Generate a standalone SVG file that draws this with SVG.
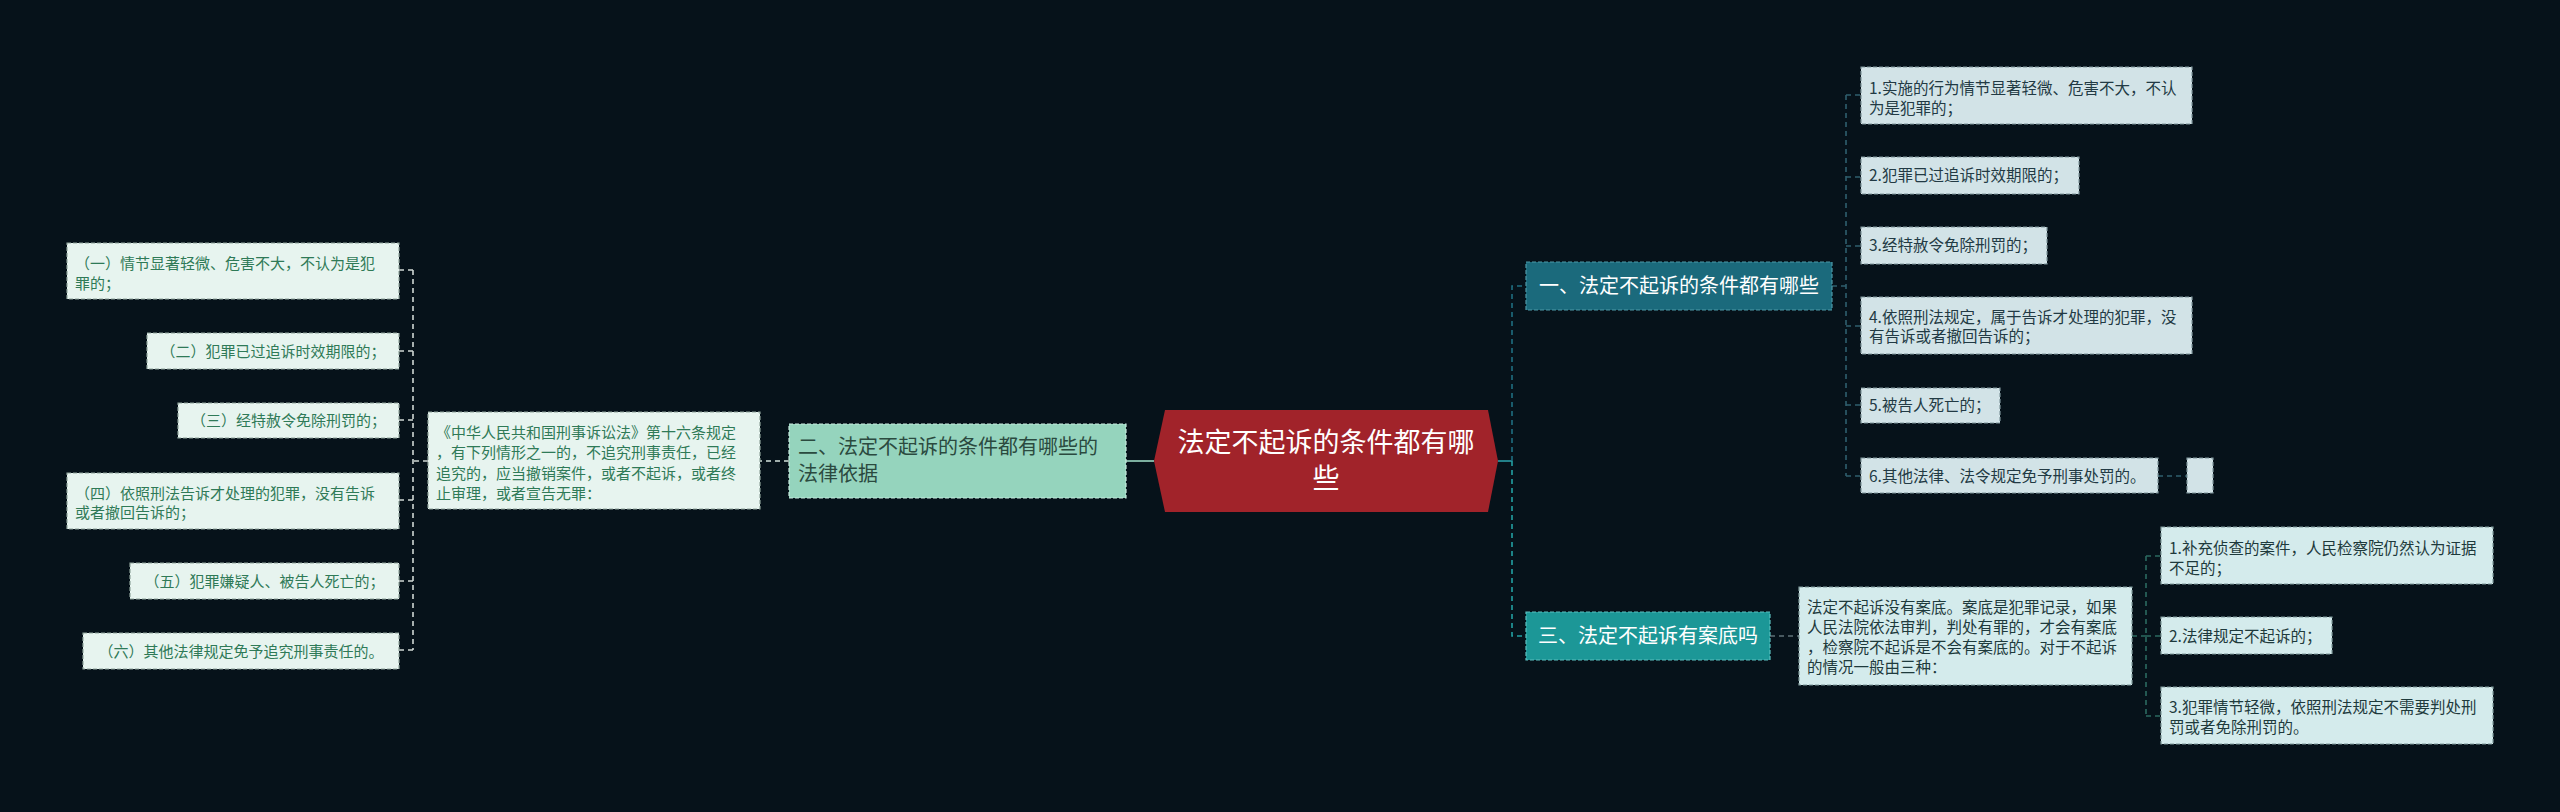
<svg xmlns="http://www.w3.org/2000/svg" width="2560" height="812" viewBox="0 0 2560 812">
<style>
text{font-family:"Noto Sans CJK SC","Noto Sans",sans-serif}
.bx{stroke-width:1.2;stroke-dasharray:4 2}
.leaf{fill:#e7f4ef;stroke:#8fa39b}
.lt{fill:#2f7a57;font-size:15px}
.rbox{fill:#d2e3e7;stroke:#7f959b}
.rt{fill:#223a44;font-size:15.5px}
.cbox{fill:#d4ebec;stroke:#7f9a9b}
.ct{fill:#1e3a3c;font-size:15.5px}
.c{fill:none;stroke-width:1.6}
.d{stroke-dasharray:5 4}
</style>
<rect width="2560" height="812" fill="#06121a"/>
<g id="connectors">
<path class="c" d="M1154 461H1126" stroke="#9bd8c2"/>
<path class="c d" d="M789 461H760" stroke="#d3e3dd"/>
<path class="c d" d="M428 461H413M413 270V650M413 270H399M413 351H399M413 420H399M413 500H399M413 581H399M413 650H399" stroke="#cfd8d4"/>
<path class="c" d="M1498 461H1512" stroke="#2a9ea6"/>
<path class="c d" d="M1512 461V286H1526" stroke="#1f6e80"/>
<path class="c d" d="M1512 461V636H1526" stroke="#22a0a2"/>
<path class="c d" d="M1832 286H1846M1846 95V476M1846 95H1861M1846 177H1861M1846 246H1861M1846 326H1861M1846 405H1861M1846 476H1861M2158 476H2187" stroke="#2f5f6e"/>
<path class="c d" d="M1770 636H1799" stroke="#5f7278"/>
<path class="c d" d="M2132 636H2146M2146 556V716M2146 556H2161M2146 636H2161M2146 716H2161" stroke="#2b6a60"/>
</g>
<g id="center">
<polygon points="1154,461 1165,410 1488,410 1498,461 1488,512 1165,512" fill="#a1232a"/>
<text x="1326" y="452" font-size="27" fill="#ffffff" text-anchor="middle">法定不起诉的条件都有哪</text>
<text x="1326" y="488" font-size="27" fill="#ffffff" text-anchor="middle">些</text>
</g>
<g id="n2">
<rect class="bx" x="789" y="424" width="337" height="74" fill="#95d4bd" stroke="#c8ece0"/>
<text x="798" y="454" font-size="20" fill="#2b4a3f">二、法定不起诉的条件都有哪些的</text>
<text x="798" y="481" font-size="20" fill="#2b4a3f">法律依据</text>
</g>
<g id="n2-text">
<rect class="bx leaf" x="428" y="412" width="332" height="97"/>
<text class="lt" x="436" y="437.5" font-size="15.5">《中华人民共和国刑事诉讼法》第十六条规定</text>
<text class="lt" x="436" y="458">，有下列情形之一的，不追究刑事责任，已经</text>
<text class="lt" x="436" y="478.5">追究的，应当撤销案件，或者不起诉，或者终</text>
<text class="lt" x="436" y="499">止审理，或者宣告无罪：</text>
</g>
<g id="l1">
<rect class="bx leaf" x="67" y="243" width="332" height="56"/>
<text class="lt" x="75" y="268.5">（一）情节显著轻微、危害不大，不认为是犯</text>
<text class="lt" x="75" y="288.5">罪的；</text>
</g>
<g id="l2">
<rect class="bx leaf" x="147" y="333" width="252" height="36"/>
<text class="lt" x="273" y="356.5" text-anchor="middle">（二）犯罪已过追诉时效期限的；</text>
</g>
<g id="l3">
<rect class="bx leaf" x="178" y="403" width="221" height="35"/>
<text class="lt" x="288.5" y="425.5" text-anchor="middle">（三）经特赦令免除刑罚的；</text>
</g>
<g id="l4">
<rect class="bx leaf" x="67" y="473" width="332" height="56"/>
<text class="lt" x="75" y="498.5">（四）依照刑法告诉才处理的犯罪，没有告诉</text>
<text class="lt" x="75" y="518">或者撤回告诉的；</text>
</g>
<g id="l5">
<rect class="bx leaf" x="130" y="563" width="269" height="36"/>
<text class="lt" x="264.5" y="586.5" text-anchor="middle">（五）犯罪嫌疑人、被告人死亡的；</text>
</g>
<g id="l6">
<rect class="bx leaf" x="83" y="633" width="316" height="36"/>
<text class="lt" x="241" y="656.5" text-anchor="middle">（六）其他法律规定免予追究刑事责任的。</text>
</g>
<g id="n1">
<rect class="bx" x="1526" y="262" width="306" height="48" fill="#1b6a7c" stroke="#4f99a8"/>
<text x="1679" y="293" font-size="20" fill="#ffffff" text-anchor="middle">一、法定不起诉的条件都有哪些</text>
</g>
<g id="r1">
<rect class="bx rbox" x="1861" y="67" width="331" height="57"/>
<text class="rt" x="1869" y="93.5">1.实施的行为情节显著轻微、危害不大，不认</text>
<text class="rt" x="1869" y="113.5">为是犯罪的；</text>
</g>
<g id="r2">
<rect class="bx rbox" x="1861" y="157" width="218" height="37"/>
<text class="rt" x="1869" y="180.5">2.犯罪已过追诉时效期限的；</text>
</g>
<g id="r3">
<rect class="bx rbox" x="1861" y="227" width="186" height="37"/>
<text class="rt" x="1869" y="250.5">3.经特赦令免除刑罚的；</text>
</g>
<g id="r4">
<rect class="bx rbox" x="1861" y="297" width="331" height="57"/>
<text class="rt" x="1869" y="322.5">4.依照刑法规定，属于告诉才处理的犯罪，没</text>
<text class="rt" x="1869" y="342">有告诉或者撤回告诉的；</text>
</g>
<g id="r5">
<rect class="bx rbox" x="1861" y="388" width="139" height="35"/>
<text class="rt" x="1869" y="410.5">5.被告人死亡的；</text>
</g>
<g id="r6">
<rect class="bx rbox" x="1861" y="458" width="297" height="35"/>
<text class="rt" x="1869" y="481.5">6.其他法律、法令规定免予刑事处罚的。</text>
</g>
<g id="r6-empty">
<rect class="bx rbox" x="2187" y="458" width="26" height="35"/>
</g>
<g id="n3">
<rect class="bx" x="1526" y="612" width="244" height="48" fill="#1c9797" stroke="#5cc0c0"/>
<text x="1648" y="643" font-size="20" fill="#ffffff" text-anchor="middle">三、法定不起诉有案底吗</text>
</g>
<g id="n3-text">
<rect class="bx cbox" x="1799" y="587" width="333" height="98"/>
<text class="ct" x="1807" y="613">法定不起诉没有案底。案底是犯罪记录，如果</text>
<text class="ct" x="1807" y="633">人民法院依法审判，判处有罪的，才会有案底</text>
<text class="ct" x="1807" y="653">，检察院不起诉是不会有案底的。对于不起诉</text>
<text class="ct" x="1807" y="673">的情况一般由三种：</text>
</g>
<g id="c1">
<rect class="bx cbox" x="2161" y="527" width="332" height="57"/>
<text class="ct" x="2169" y="553.5">1.补充侦查的案件，人民检察院仍然认为证据</text>
<text class="ct" x="2169" y="573.5">不足的；</text>
</g>
<g id="c2">
<rect class="bx cbox" x="2161" y="617" width="171" height="37"/>
<text class="ct" x="2169" y="641.5">2.法律规定不起诉的；</text>
</g>
<g id="c3">
<rect class="bx cbox" x="2161" y="687" width="332" height="57"/>
<text class="ct" x="2169" y="712.5">3.犯罪情节轻微，依照刑法规定不需要判处刑</text>
<text class="ct" x="2169" y="732.5">罚或者免除刑罚的。</text>
</g>
</svg>
